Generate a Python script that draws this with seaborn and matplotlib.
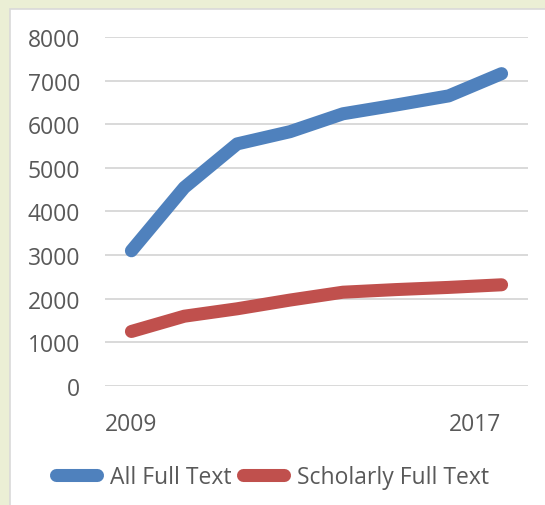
import pandas as pd
import seaborn as sns
import matplotlib.pyplot as plt
from matplotlib.patches import Rectangle
from matplotlib.lines import Line2D

# 차트 데이터
points = list(range(8))
tick_labels = ['2009', '2017']
all_full = [3100, 4550, 5550, 5830, 6240, 6440, 6650, 7160]
scholarly_full = [1250, 1600, 1770, 1970, 2150, 2210, 2260, 2320]
series_names = ['All Full Text', 'Scholarly Full Text']
colors = ['#4F81BD', '#C0504D']

df = pd.DataFrame({
    'point': points * 2,
    'value': all_full + scholarly_full,
    'series': [series_names[0]] * 8 + [series_names[1]] * 8,
})

sns.set_theme(style='white')
plt.rcParams['font.family'] = ['Open Sans', 'DejaVu Sans']
txt = '#595959'
fs = 16.5
lw = 9.4

fig = plt.figure(figsize=(5.45, 5.06), dpi=100)
fig.patch.set_facecolor('#EBEFD5')
# 흰색 차트 영역 (축 뒤에 그리기)
fig.patches.append(Rectangle((10 / 545, -0.01), 1.0, 1 - 10 / 506 + 0.01,
                             transform=fig.transFigure, facecolor='white',
                             edgecolor='#D9D9D9', linewidth=1.2, zorder=-5))

ax = fig.add_axes([105 / 545, 1 - 387 / 506, 423 / 545, 349 / 506])
ax.set_facecolor('none')
ax.set_zorder(2)

sns.lineplot(data=df, x='point', y='value', hue='series', palette=colors,
             linewidth=lw, ax=ax, legend=False, zorder=3)
for ln in ax.lines:
    ln.set_solid_capstyle('round')
    ln.set_solid_joinstyle('round')

ax.set_xlim(-0.5, 7.5)
ax.set_ylim(0, 8000)
ax.set_yticks(range(0, 8001, 1000))
ax.yaxis.grid(True, color='#D9D9D9', linewidth=1.4)
ax.set_axisbelow(True)
for s in ax.spines.values():
    s.set_visible(False)

ax.set_xticks([points[0], points[-1]])
ax.set_xticklabels(tick_labels)
ax.get_xticklabels()[-1].set_ha('right')
ax.get_xticklabels()[-1].set_x(points[-1] + 0.05)
ax.tick_params(axis='y', length=0, pad=18, labelsize=fs, labelcolor=txt)
ax.tick_params(axis='x', length=0, pad=19, labelsize=fs, labelcolor=txt)
ax.set_xlabel('')
ax.set_ylabel('')

handles = [Line2D([0], [0], color=c, linewidth=lw, solid_capstyle='round') for c in colors]
leg = fig.legend(handles, series_names, loc='center', bbox_to_anchor=(0.5, 1 - 478 / 506),
                 ncol=2, frameon=False, fontsize=fs, handlelength=1.8,
                 handletextpad=0.55, columnspacing=0.5, labelcolor=txt)

fig.savefig('out.png', dpi=100, facecolor=fig.get_facecolor())
